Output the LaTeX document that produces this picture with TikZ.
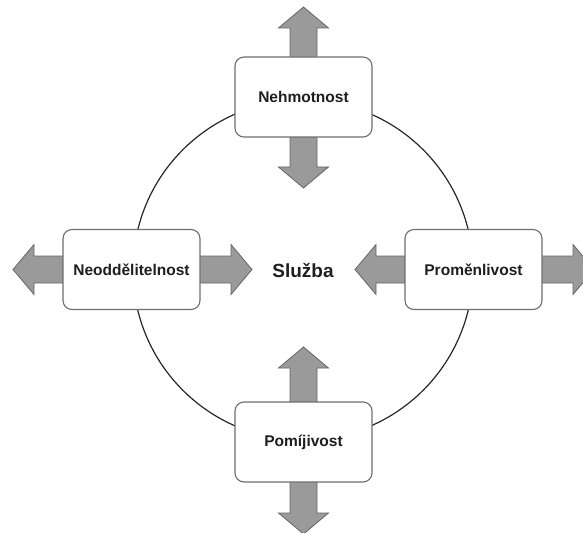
\documentclass[tikz,border=0pt]{standalone}
\usepackage{fontspec}
\setmainfont{Liberation Sans}
\usetikzlibrary{backgrounds}
\definecolor{arrfill}{HTML}{9A9A9A}
\definecolor{arrdraw}{HTML}{666666}
\definecolor{boxdraw}{HTML}{6E6E6E}
\definecolor{txt}{HTML}{1E1E1E}
\tikzset{
  factor/.style={draw=boxdraw, line width=1.1bp, fill=white, rounded corners=9bp,
    minimum width=137bp, minimum height=80bp, inner sep=0pt,
    font=\fontsize{15.5bp}{18bp}\selectfont\bfseries, text=txt},
  center/.style={font=\fontsize{19bp}{22bp}\selectfont\bfseries, text=txt},
  arrowfill/.style={fill=arrfill, draw=arrdraw, line width=0.8bp, line join=miter},
  ring/.style={draw=black!85, line width=1.2bp}
}
\newcommand\blockarr[3]{%
  \begin{scope}[shift={(#1)}, rotate=#2]
    \draw[arrowfill] (0,-13.5) -- ({#3-21},-13.5) -- ({#3-21},-25) -- (#3,0)
      -- ({#3-21},25) -- ({#3-21},13.5) -- (0,13.5) -- cycle;
  \end{scope}}
\begin{document}
\begin{tikzpicture}[x=1bp,y=-1bp]
  \useasboundingbox (0,0) rectangle (583,533);
  \clip (0,0) rectangle (583,533);
  \coordinate (c) at (303,270);
  \node[factor] (neh) at (303.5,97) {Nehmotnost};
  \node[factor] (neo) at (131.5,269.5) {Neoddělitelnost};
  \node[factor] (pro) at (473.5,269.5) {Proměnlivost};
  \node[factor] (pom) at (303.5,442) {Pomíjivost};
  \node[center] (sl) at (c) {Služba};
  \begin{scope}[on background layer]
    \draw[ring] (c) circle[radius=170];
    \blockarr{neh.center}{90}{90}
    \blockarr{neh.center}{-90}{91}
    \blockarr{neo.center}{180}{118.5}
    \blockarr{neo.center}{0}{120.5}
    \blockarr{pro.center}{180}{118.5}
    \blockarr{pro.center}{0}{120.5}
    \blockarr{pom.center}{90}{95}
    \blockarr{pom.center}{-90}{92}
  \end{scope}
\end{tikzpicture}
\end{document}
